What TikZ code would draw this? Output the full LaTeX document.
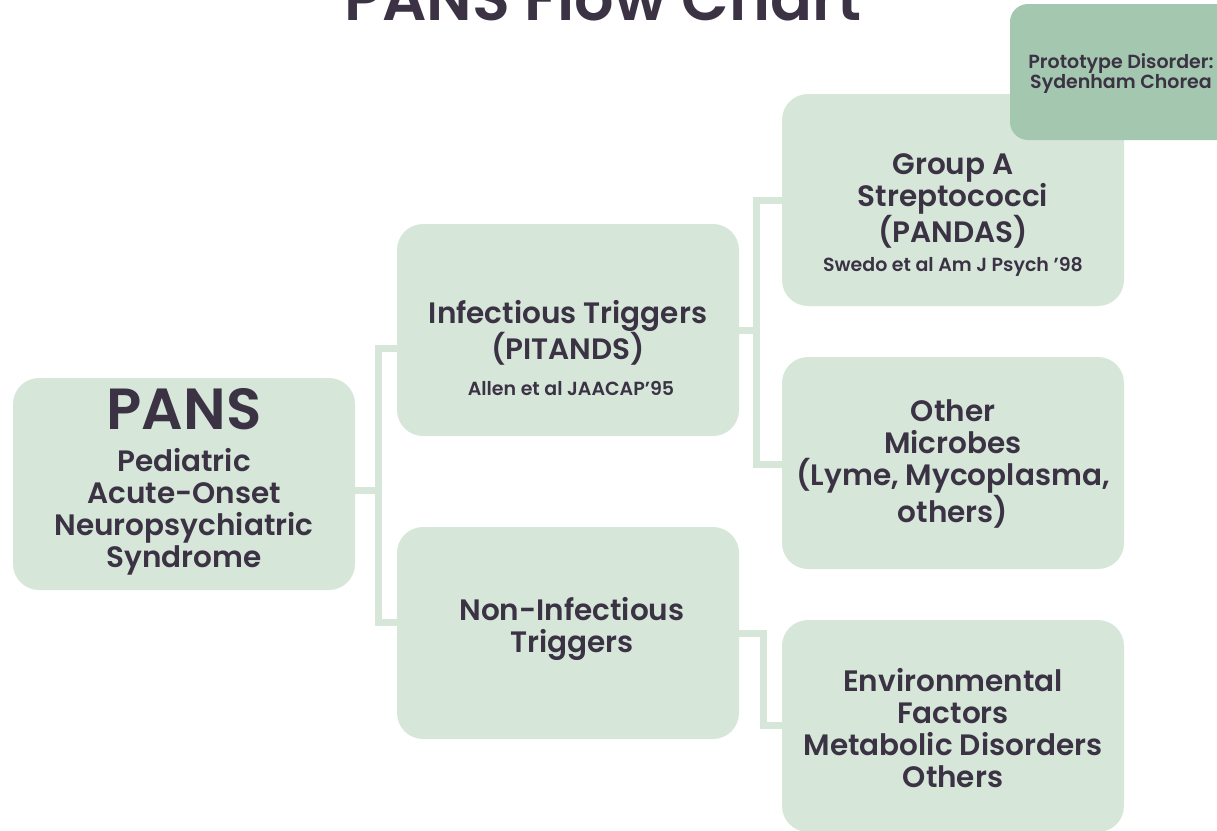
\documentclass[tikz,border=0pt]{standalone}
\usepackage{fontspec}
\setmainfont{Poppins}[UprightFont=* SemiBold, BoldFont=* Bold]
\definecolor{boxfill}{HTML}{D6E7DA}
\definecolor{protofill}{HTML}{A4C7AF}
\definecolor{ink}{HTML}{3B3244}
\newcommand{\apos}{\char"27\relax}
\begin{document}
\begin{tikzpicture}[x=1pt,y=-1pt,
  box/.style={fill=boxfill, rounded corners=26pt, minimum width=342pt, minimum height=212pt, inner sep=0pt},
  txt/.style={text=ink, align=center, font=\fontsize{29.5}{32}\selectfont},
  small/.style={text=ink, align=center, font=\fontsize{19}{20}\selectfont},
  conn/.style={draw=boxfill, line width=7pt}]
\useasboundingbox (0,0) rectangle (1217,830);
\clip (0,0) rectangle (1217,830);
% title
\node[text=ink, anchor=base, font=\fontsize{62}{64}\selectfont] (title) at (603,20) {PANS Flow Chart};
% boxes
\node[box] (pans) at (184,484) {};
\node[box] (inf) at (568,330) {};
\node[box] (non) at (568,633) {};
\node[box] (gas) at (953,200) {};
\node[box] (oth) at (953,463) {};
\node[box] (env) at (953,726) {};
\node[fill=protofill, rounded corners=18pt, minimum width=230pt, minimum height=136pt, inner sep=0pt] (proto) at (1125,72) {};
% connectors
\coordinate (j1) at (378,490);
\draw[conn] (pans.east |- j1) -- (j1);
\draw[conn] (inf.west |- 0,348) -| (j1) |- (non.west |- 0,622);
\coordinate (j2) at (756,330);
\draw[conn] (inf.east |- j2) -- (j2);
\draw[conn] (gas.west |- 0,200) -| (j2) |- (oth.west |- 0,464);
\coordinate (j3) at (763,633);
\draw[conn] (non.east |- j3) -- (j3) |- (env.west |- 0,725);
% texts
\node[txt, font=\fontsize{58}{60}\selectfont] (t1) at (184,409) {PANS};
\node[txt] (t2) at (184,512) {Pediatric\\Acute-Onset\\Neuropsychiatric\\Syndrome};
\node[txt] (t3) at (568,333) {Infectious Triggers\\(PITANDS)};
\node[small] (t4) at (571,388) {Allen et al JAACAP\apos95};
\node[txt] (t5) at (953,201) {Group A\\Streptococci\\(PANDAS)};
\node[small] (t6) at (953,267) {Swedo et al Am J Psych \apos98};
\node[txt] (t7) at (953,464) {Other\\Microbes\\(Lyme, Mycoplasma,\\others)};
\node[txt] (t8) at (572,629) {Non-Infectious\\Triggers};
\node[txt] (t9) at (953,728) {Environmental\\Factors\\Metabolic Disorders\\Others};
\node[small] (t10) at (1121,74) {Prototype Disorder:\\Sydenham Chorea};
\end{tikzpicture}
\end{document}
